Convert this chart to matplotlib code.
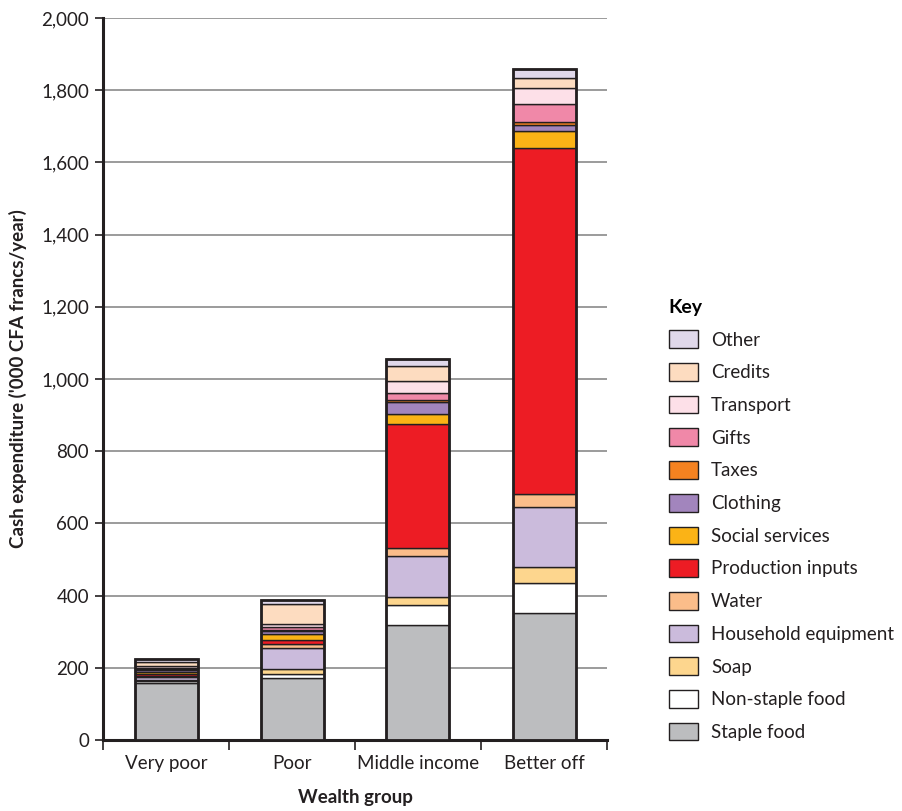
import numpy as np
import matplotlib
matplotlib.use("Agg")
import matplotlib.pyplot as plt
from matplotlib.patches import Patch
from matplotlib.ticker import FuncFormatter, FixedLocator

plt.rcParams["font.family"] = ["Lato", "DejaVu Sans"]

groups = ["Very poor", "Poor", "Middle income", "Better off"]

# stacked from the bottom up
categories = ["Staple food", "Non-staple food", "Soap", "Household equipment", "Water",
              "Production inputs", "Social services", "Clothing", "Taxes", "Gifts",
              "Transport", "Credits", "Other"]
colors = ["#bcbdbf", "#ffffff", "#fdd68e", "#cbbbdc", "#fbbd8a", "#ed1c24", "#fbb316",
          "#a285bd", "#f58220", "#f088a8", "#fde0e8", "#fddcc0", "#e0d8ea"]

staple_food = [157, 171, 319, 351]
non_staple_food = [6, 13, 54, 85]
soap = [4, 12, 24, 44]
household_equipment = [8, 60, 113, 166]
water = [3, 9, 23, 35]
production_inputs = [5, 13, 342, 958]
social_services = [5, 16, 28, 48]
clothing = [5, 8, 32, 17]
taxes = [3, 4, 6, 9]
gifts = [4, 6, 21, 49]
transport = [5, 8, 32, 43]
credits = [12, 57, 41, 30]
other = [8, 11, 21, 25]

values = [staple_food, non_staple_food, soap, household_equipment, water,
          production_inputs, social_services, clothing, taxes, gifts,
          transport, credits, other]

fig = plt.figure(figsize=(9.02, 8.11), dpi=100)
ax = fig.add_axes([103 / 902, 71 / 811, 504 / 902, 722 / 811])

x = np.arange(len(groups))
bottom = np.zeros(len(groups))
for cat, col, vals in zip(categories, colors, values):
    ax.bar(x, vals, width=0.5, bottom=bottom, color=col, edgecolor="#231f20",
           linewidth=1.0, zorder=3, label=cat)
    bottom += np.array(vals)
# outer outline of each bar
ax.bar(x, bottom, width=0.5, fill=False, edgecolor="#231f20", linewidth=2.0, zorder=4)

ax.set_xlim(-0.5, 3.5)
ax.set_ylim(0, 2000)
ax.set_yticks(np.arange(0, 2001, 200))
ax.yaxis.set_major_formatter(FuncFormatter(lambda v, p: f"{int(v):,}"))
ax.grid(axis="y", color="#8a8a8a", linewidth=1.2, zorder=0)

ax.set_xticks(x)
ax.set_xticklabels(groups)
ax.tick_params(axis="x", which="major", length=0, pad=11, labelsize=13.5, colors="#231f20")
ax.xaxis.set_minor_locator(FixedLocator([-0.5, 0.5, 1.5, 2.5, 3.5]))
ax.tick_params(axis="x", which="minor", length=7, width=1.2, direction="out", color="#231f20")
ax.tick_params(axis="y", length=6, width=1.2, direction="out", labelsize=13.5,
               colors="#231f20", pad=4)

for s in ["top", "right"]:
    ax.spines[s].set_visible(False)
ax.spines["left"].set_linewidth(2.2)
ax.spines["bottom"].set_linewidth(2.2)
ax.spines["left"].set_color("#231f20")
ax.spines["bottom"].set_color("#231f20")

ax.set_ylabel("Cash expenditure ('000 CFA francs/year)", fontsize=13.5,
              fontweight="bold", color="#231f20", labelpad=10)
ax.set_xlabel("Wealth group", fontsize=13.5, fontweight="bold", color="#231f20",
              labelpad=12)

handles = [Patch(facecolor=c, edgecolor="#231f20", linewidth=1.0, label=l)
           for l, c in zip(categories, colors)][::-1]
leg = fig.legend(handles=handles, loc="upper left",
                 bbox_to_anchor=(652 / 902, (811 - 282) / 811),
                 frameon=False, fontsize=13.5, title="Key",
                 title_fontproperties={"weight": "bold", "size": 14},
                 handlelength=1.55, handleheight=1.08, labelspacing=0.77,
                 handletextpad=0.7, alignment="left")
for t in leg.get_texts():
    t.set_color("#231f20")

fig.savefig("out.png", dpi=100)
